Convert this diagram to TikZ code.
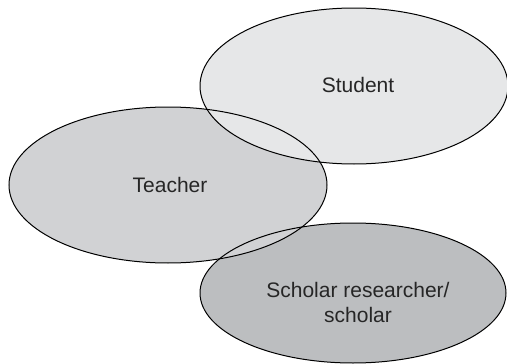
\documentclass[tikz,border=0pt]{standalone}
\usepackage{fontspec}
\setmainfont{Liberation Sans}
\usepackage{xcolor}
\definecolor{studentgray}{HTML}{E6E7E8}
\definecolor{teachergray}{HTML}{D1D2D4}
\definecolor{scholargray}{HTML}{BCBEC0}

\begin{document}
\begin{tikzpicture}[x=1pt,y=-1pt,every node/.style={align=center,font=\fontsize{21}{25}\selectfont,text=black!85}]
				\useasboundingbox (0,0) rectangle (507,364);
				% fills first, outlines on top
				\fill[scholargray] (353,293) ellipse [x radius=153pt, y radius=70pt];
				\fill[teachergray] (168,185) ellipse [x radius=159pt, y radius=78pt];
				\fill[studentgray] (354,86) ellipse [x radius=154pt, y radius=78pt];
				\begin{scope}[line width=1pt]
				\draw (353,293) ellipse [x radius=153pt, y radius=70pt];
				\draw (168,185) ellipse [x radius=159pt, y radius=78pt];
				\draw (354,86) ellipse [x radius=154pt, y radius=78pt];
				\end{scope}
				\node (student) at (358,85){Student};
				\node (teacher) at (170,185){Teacher};
				\node (scholar) at (358,302){Scholar researcher/\\scholar};
			\end{tikzpicture}
\end{document}
